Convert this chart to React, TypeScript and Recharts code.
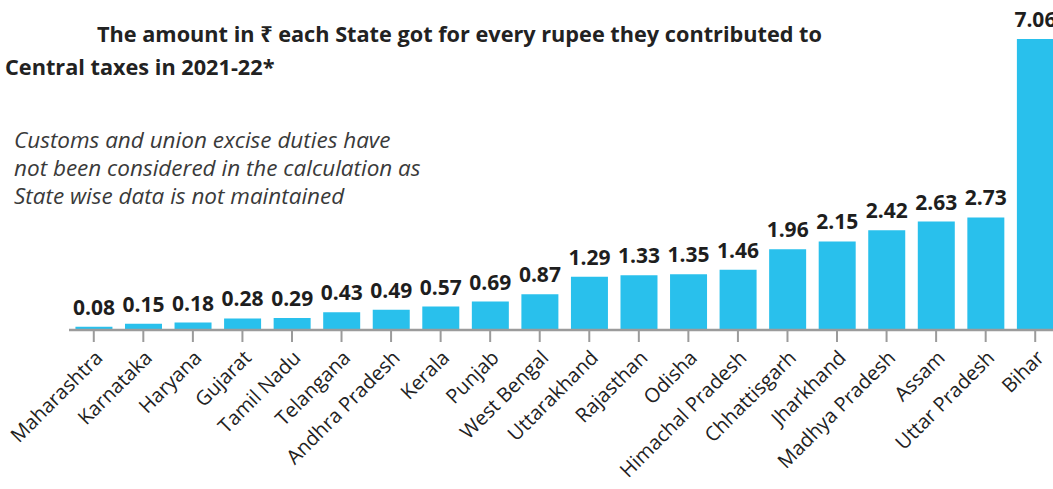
import React from 'react';
import { BarChart, Bar, XAxis, YAxis, LabelList } from 'recharts';

const states = [
  'Maharashtra', 'Karnataka', 'Haryana', 'Gujarat', 'Tamil Nadu', 'Telangana',
  'Andhra Pradesh', 'Kerala', 'Punjab', 'West Bengal', 'Uttarakhand', 'Rajasthan',
  'Odisha', 'Himachal Pradesh', 'Chhattisgarh', 'Jharkhand', 'Madhya Pradesh',
  'Assam', 'Uttar Pradesh', 'Bihar',
];

const amounts = [
  0.08, 0.15, 0.18, 0.28, 0.29, 0.43, 0.49, 0.57, 0.69, 0.87,
  1.29, 1.33, 1.35, 1.46, 1.96, 2.15, 2.42, 2.63, 2.73, 7.06,
];

const titleLines = [
  'The amount in ₹ each State got for every rupee they contributed to',
  'Central taxes in 2021-22*',
];

const noteLines = [
  'Customs and union excise duties have',
  'not been considered in the calculation as',
  'State wise data is not maintained',
];

const data = states.map((name, i) => ({ name, value: amounts[i] }));

const BAR = '#29C0EC';
const AXIS = '#9b9b9b';

const App = () => {
  return (
    <div
      style={{
        position: 'fixed',
        left: 0,
        top: 0,
        width: 1053,
        height: 489,
        overflow: 'hidden',
        background: '#fff',
        fontFamily: '"Open Sans", "Noto Sans", sans-serif',
        color: '#222',
      }}
    >
      <BarChart
        width={1060}
        height={489}
        data={data}
        margin={{ top: 39, right: 0, left: 69, bottom: 0 }}
        barCategoryGap="13%"
      >
        <YAxis hide domain={[0, 7.06]} />
        <XAxis
          dataKey="name"
          interval={0}
          height={159}
          axisLine={{ stroke: AXIS, strokeWidth: 2.5 }}
          tickLine={{ stroke: AXIS, strokeWidth: 2 }}
          tickSize={12}
          tickMargin={7}
          angle={-45}
          textAnchor="end"
          tick={{ fill: '#222', fontSize: 20 }}
        />
        <Bar dataKey="value" fill={BAR} isAnimationActive={false}>
          <LabelList
            dataKey="value"
            position="top"
            offset={12}
            fill="#1e1e1e"
            fontSize={21}
            fontWeight={700}
          />
        </Bar>
      </BarChart>

      <div style={{ position: 'absolute', left: 0, top: 17, fontSize: 21.7, fontWeight: 700, lineHeight: '33px' }}>
        <div style={{ paddingLeft: 97 }}>{titleLines[0]}</div>
        <div style={{ paddingLeft: 5 }}>{titleLines[1]}</div>
      </div>

      <div
        style={{
          position: 'absolute',
          left: 14,
          top: 126,
          fontSize: 22.5,
          fontStyle: 'italic',
          lineHeight: '28px',
          color: '#3a3a3a',
        }}
      >
        {noteLines.map((l) => (
          <div key={l}>{l}</div>
        ))}
      </div>
    </div>
  );
};

export default App;
